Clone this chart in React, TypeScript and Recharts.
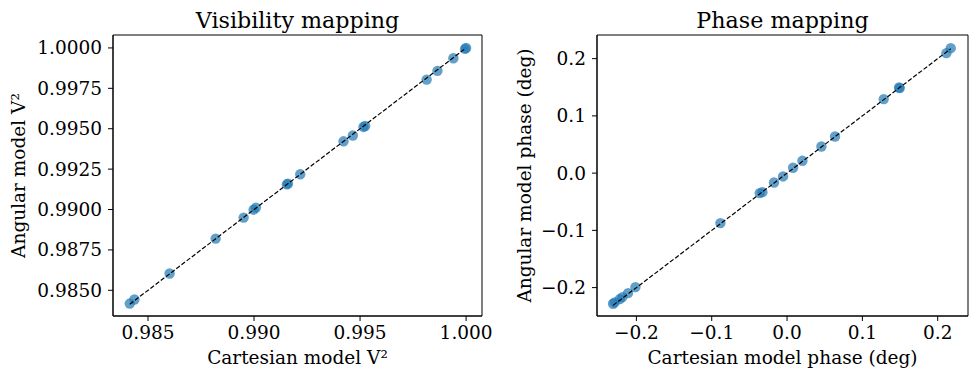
import { ScatterChart, Scatter, XAxis, YAxis, ReferenceArea } from "recharts";

// Left panel: squared visibilities
const cartV2 = [0.98414, 0.98436, 0.98602, 0.98819, 0.98951, 0.98998, 0.99009, 0.99155, 0.9916, 0.99218, 0.99422, 0.99466, 0.99516, 0.99524, 0.99814, 0.99865, 0.9994, 0.99995, 1.0];
const angV2 = [0.98418, 0.98443, 0.98604, 0.9882, 0.9895, 0.98999, 0.99012, 0.99156, 0.9916, 0.99218, 0.99422, 0.99458, 0.99511, 0.99517, 0.99804, 0.99858, 0.99936, 0.99994, 1.0];
const v2XTicks = [0.985, 0.99, 0.995, 1.0];
const v2YTicks = [0.985, 0.9875, 0.99, 0.9925, 0.995, 0.9975, 1.0];
const v2XDomain = [0.98335, 1.00075];
const v2YDomain = [0.98341, 1.0008];

// Right panel: phases in degrees
const cartPhase = [-0.231, -0.2288, -0.2221, -0.2186, -0.2111, -0.2013, -0.0885, -0.0363, -0.0327, -0.0173, -0.0053, 0.008, 0.0204, 0.0456, 0.0637, 0.1283, 0.1487, 0.1496, 0.2115, 0.2173];
const angPhase = [-0.2282, -0.2259, -0.2201, -0.2166, -0.2096, -0.1991, -0.0873, -0.0349, -0.0332, -0.0163, -0.0058, 0.0093, 0.0215, 0.0466, 0.064, 0.1293, 0.1496, 0.1485, 0.2096, 0.2183];
const phaseTicks = [-0.2, -0.1, 0.0, 0.1, 0.2];
const phaseXDomain = [-0.2523, 0.2402];
const phaseYDomain = [-0.2496, 0.2413];

const FONT = "'DejaVu Serif', serif";
const BLUE = "#1f77b4";
const FS = 18.5;

const fmtSigned = (d: number) => (v: number) => (v < -1e-12 ? "\u2212" + Math.abs(v).toFixed(d) : Math.abs(v).toFixed(d));

const Dot = (props: any) => <circle cx={props.cx} cy={props.cy} r={5.2} fill={BLUE} fillOpacity={0.7} />;

function Panel(props: {
  left: number; width: number; yAxisWidth: number; marginRight: number;
  title: string; xLabel: string; yLabel: string; yLabelOffset: number;
  xs: number[]; ys: number[]; xTicks: number[]; yTicks: number[];
  xDomain: number[]; yDomain: number[]; xFmt: (v: number) => string; yFmt: (v: number) => string;
}) {
  const pts = props.xs.map((x, i) => ({ x, y: props.ys[i] }));
  const lo = Math.min(...props.xs);
  const hi = Math.max(...props.xs);
  const line = [{ x: lo, y: lo }, { x: hi, y: hi }];
  const tick = { fontSize: FS, fontFamily: FONT, fill: "#000" };
  return (
    <div style={{ position: "absolute", left: props.left, top: 0, width: props.width, height: 378 }}>
      <div style={{
        position: "absolute", left: props.yAxisWidth, width: props.width - props.yAxisWidth - props.marginRight,
        top: 8.5, textAlign: "center", fontFamily: FONT, fontSize: 22.2, lineHeight: 1, color: "#000",
      }}>
        {props.title}
      </div>
      <ScatterChart width={props.width} height={378} margin={{ top: 35, right: props.marginRight, bottom: 0, left: 0 }}>
        <XAxis type="number" dataKey="x" domain={props.xDomain} ticks={props.xTicks} tickFormatter={props.xFmt}
          allowDataOverflow height={62} tick={tick} tickSize={5} tickMargin={5} stroke="#000"
          label={{ value: props.xLabel, position: "insideBottom", offset: 14, fontSize: FS, fontFamily: FONT, fill: "#000" }} />
        <YAxis type="number" dataKey="y" domain={props.yDomain} ticks={props.yTicks} tickFormatter={props.yFmt}
          allowDataOverflow width={props.yAxisWidth} tick={tick} tickSize={5} tickMargin={6} stroke="#000"
          label={{ value: props.yLabel, angle: -90, position: "insideLeft", offset: props.yLabelOffset, fontSize: FS, fontFamily: FONT, fill: "#000", style: { textAnchor: "middle" } }} />
        <ReferenceArea x1={props.xDomain[0]} x2={props.xDomain[1]} y1={props.yDomain[0]} y2={props.yDomain[1]}
          fill="none" stroke="#000" strokeWidth={1} fillOpacity={0} />
        <Scatter data={pts} shape={Dot} isAnimationActive={false} />
        <Scatter data={line} line={{ stroke: "#000", strokeWidth: 1.2, strokeDasharray: "4.5 2" }} shape={() => null} isAnimationActive={false} />
      </ScatterChart>
    </div>
  );
}

export default function App() {
  return (
    <div style={{ position: "fixed", left: 0, top: 0, width: 977, height: 378, background: "#fff" }}>
      <Panel left={0} width={502} yAxisWidth={113} marginRight={20}
        title="Visibility mapping" xLabel="Cartesian model V²" yLabel="Angular model V²" yLabelOffset={18}
        xs={cartV2} ys={angV2} xTicks={v2XTicks} yTicks={v2YTicks} xDomain={v2XDomain} yDomain={v2YDomain}
        xFmt={(v) => v.toFixed(3)} yFmt={(v) => v.toFixed(4)} />
      <Panel left={490} width={487} yAxisWidth={107} marginRight={9}
        title="Phase mapping" xLabel="Cartesian model phase (deg)" yLabel="Angular model phase (deg)" yLabelOffset={34}
        xs={cartPhase} ys={angPhase} xTicks={phaseTicks} yTicks={phaseTicks} xDomain={phaseXDomain} yDomain={phaseYDomain}
        xFmt={fmtSigned(1)} yFmt={fmtSigned(1)} />
    </div>
  );
}
